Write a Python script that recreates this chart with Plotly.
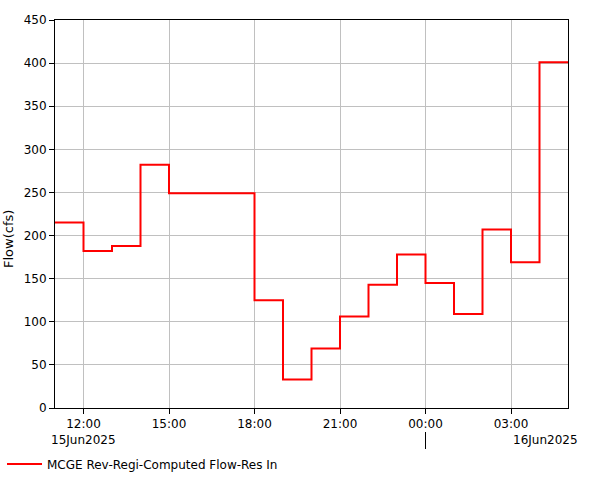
import plotly.graph_objects as go

times = [
    "2025-06-15 11:00", "2025-06-15 12:00", "2025-06-15 13:00", "2025-06-15 14:00",
    "2025-06-15 15:00", "2025-06-15 16:00", "2025-06-15 17:00", "2025-06-15 18:00",
    "2025-06-15 19:00", "2025-06-15 20:00", "2025-06-15 21:00", "2025-06-15 22:00",
    "2025-06-15 23:00", "2025-06-16 00:00", "2025-06-16 01:00", "2025-06-16 02:00",
    "2025-06-16 03:00", "2025-06-16 04:00", "2025-06-16 05:00",
]
flow = [215, 182, 188, 282, 249, 249, 249, 125, 33, 69, 106, 143, 178, 145, 109, 207, 169, 401, 401]

series_name = "MCGE Rev-Regi-Computed Flow-Res In"
y_title = "Flow(cfs)"
date_labels = [("2025-06-15 12:00", "15Jun2025"), ("2025-06-16 03:00", "16Jun2025")]
day_break = "2025-06-16 00:00"

font = "DejaVu Sans"

fig = go.Figure()
fig.add_trace(go.Scatter(
    x=times, y=flow, mode="lines", line=dict(color="#ff0000", width=2, shape="hv"),
    name=series_name,
))

fig.update_layout(
    width=601, height=480,
    margin=dict(l=55, r=33, t=20, b=72, autoexpand=False),
    paper_bgcolor="white", plot_bgcolor="white",
    font=dict(family=font, size=12, color="black"),
    showlegend=True,
    legend=dict(orientation="h", xref="container", yref="container", x=2 / 601, y=(480 - 464) / 480,
                xanchor="left", yanchor="middle", font=dict(size=12, family=font),
                itemwidth=35, bgcolor="rgba(0,0,0,0)"),
    xaxis=dict(
        type="date", range=["2025-06-15 11:00", "2025-06-16 05:00"],
        tick0="2025-06-15 12:00", dtick=3 * 3600 * 1000, tickformat="%H:%M",
        showgrid=True, gridcolor="#c0c0c0", gridwidth=1,
        showline=True, linecolor="black", linewidth=1, mirror=True,
        ticks="outside", ticklen=5, tickcolor="black", automargin=False,
        tickfont=dict(size=12, family=font), zeroline=False,
    ),
    yaxis=dict(
        range=[0, 450], dtick=50, tick0=0,
        showgrid=True, gridcolor="#c0c0c0", gridwidth=1,
        showline=True, linecolor="black", linewidth=1, mirror=True,
        ticks="outside", ticklen=5, tickcolor="black", automargin=False,
        tickfont=dict(size=12, family=font), zeroline=False,
    ),
)

fig.add_annotation(x=8 / 601, xref="paper", xanchor="center", y=(408 - 239) / 388, yref="paper",
                   yanchor="middle", textangle=-90, text=y_title, showarrow=False,
                   font=dict(size=13, family=font))
# paper x for annotation is relative to plot area; convert container px to plot fraction
fig.layout.annotations[0].x = (8 - 55) / 513

for t, lbl in date_labels:
    fig.add_annotation(x=t, xref="x", y=0, yref="paper", yshift=-32, yanchor="middle",
                       xanchor="center" if lbl == "15Jun2025" else "left",
                       text=lbl, showarrow=False, font=dict(size=12, family=font))

fig.add_shape(type="line", xref="x", yref="paper", x0=day_break, x1=day_break,
              y0=-24 / 388, y1=-41 / 388, line=dict(color="black", width=1))

fig.write_html("out.html", config={"displayModeBar": False},
               post_script="document.body.style.margin='0';")
